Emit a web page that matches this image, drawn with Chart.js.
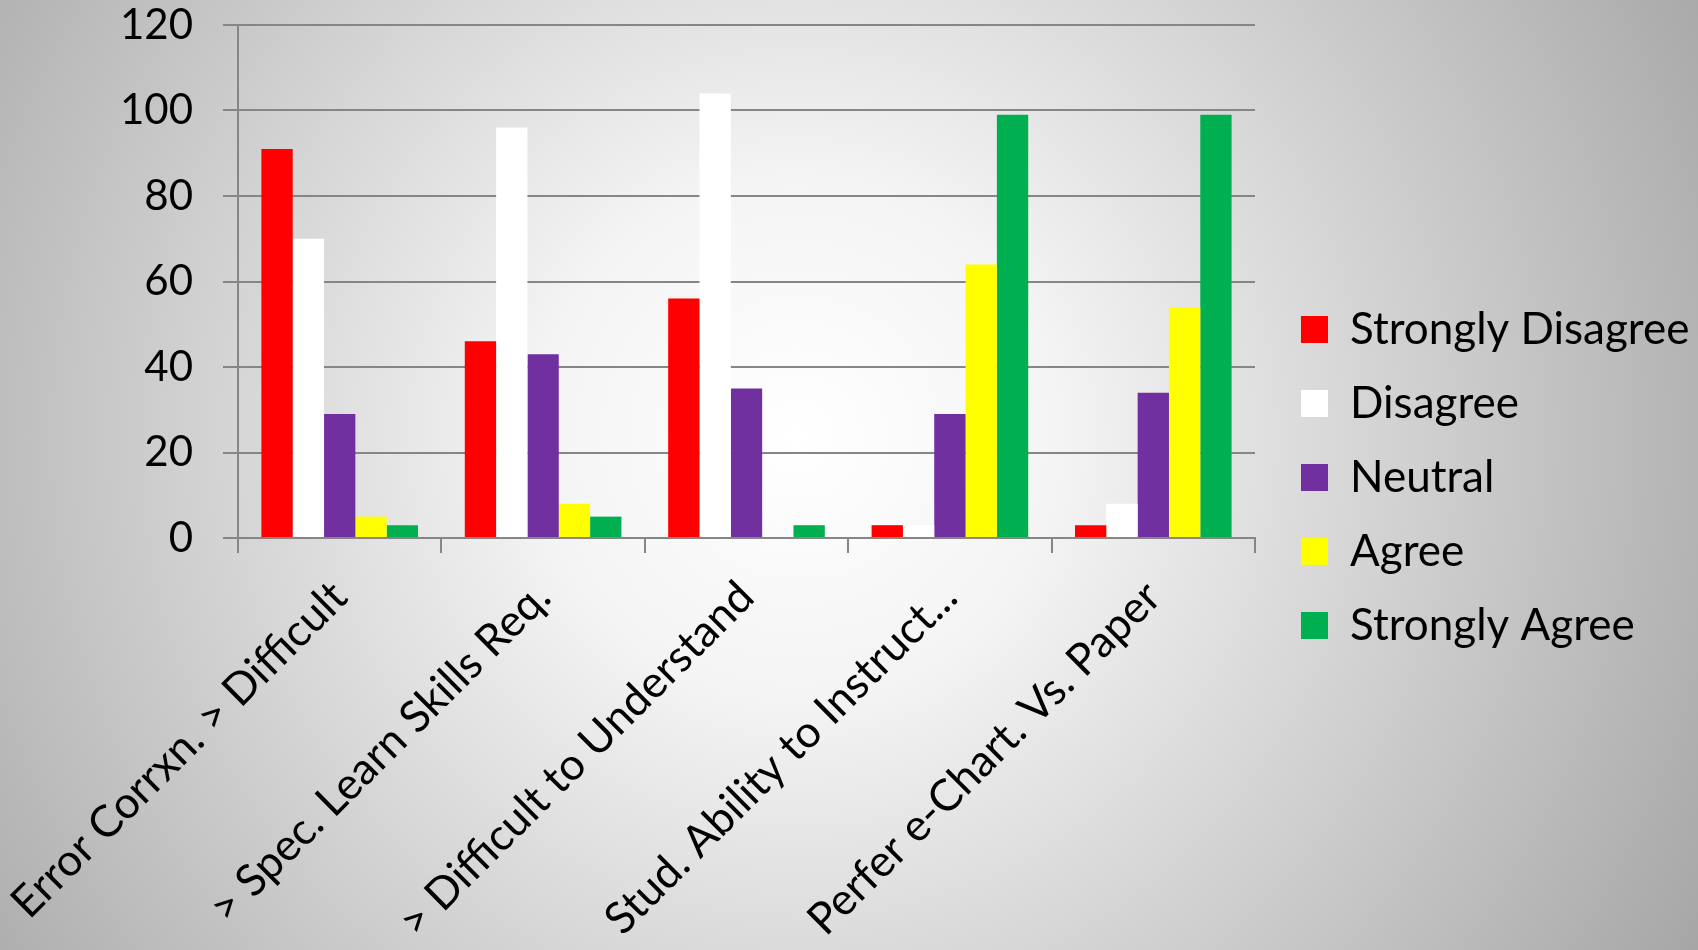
<!DOCTYPE html>
<html>
<head>
<meta charset="utf-8">
<script src="https://cdn.jsdelivr.net/npm/chart.js@4"></script>
<style>
  html, body { margin: 0; padding: 0; }
  body {
    width: 1698px;
    height: 950px;
    overflow: hidden;
    background: radial-gradient(circle farthest-corner at 47% 46%, #ffffff 0%, #f4f4f4 25%, #a6a6a6 100%);
  }
  #chartContainer { width: 1698px; height: 950px; }
</style>
</head>
<body>
<div id="chartContainer"><canvas id="barChart" width="1698" height="950"></canvas></div>
<script>
var categories = [
  'Error Corrxn. > Difficult',
  '> Spec. Learn Skills Req.',
  '> Difficult to Understand',
  'Stud. Ability to Instruct...',
  'Perfer e-Chart. Vs. Paper',
];
var stronglyDisagree = [91, 46, 56, 3, 3];
var disagree = [70, 96, 104, 3, 8];
var neutral = [29, 43, 35, 29, 34];
var agree = [5, 8, 0, 64, 54];
var stronglyAgree = [3, 5, 3, 99, 99];
var yTicks = [0, 20, 40, 60, 80, 100, 120];

var axisGray = '#868686';
var tickFont = { family: 'Lato', size: 42 };
var labelFont = { family: 'Lato', size: 44 };

// legend sits a bit right of the plot edge, like the original
var legendNudge = {
  id: 'legendNudge',
  beforeInit: function (chart) {
    var legend = chart.legend;
    var fit = legend.fit;
    legend.fit = function () {
      fit.call(this);
      this.width = 1698 - 1255;
    };
  },
  afterLayout: function (chart) {
    chart.legend.left += 16;
    chart.legend.right += 16;
    chart.legend.top -= 10;
    chart.legend.bottom -= 10;
  },
};

var ctx = document.getElementById('barChart').getContext('2d');
var barChart = new Chart(ctx, {
  type: 'bar',
  data: {
    labels: categories,
    datasets: [
      { label: 'Strongly Disagree', data: stronglyDisagree, backgroundColor: '#FF0000' },
      { label: 'Disagree', data: disagree, backgroundColor: '#FFFFFF' },
      { label: 'Neutral', data: neutral, backgroundColor: '#7030A0' },
      { label: 'Agree', data: agree, backgroundColor: '#FFFF00' },
      { label: 'Strongly Agree', data: stronglyAgree, backgroundColor: '#00B050' },
    ],
  },
  options: {
    responsive: false,
    animation: false,
    layout: { padding: { top: 25, left: 0, right: 0, bottom: 0 } },
    datasets: {
      bar: { categoryPercentage: 0.77, barPercentage: 1.0 },
    },
    plugins: {
      legend: {
        position: 'right',
        labels: {
          font: labelFont,
          color: '#000',
          boxWidth: 27,
          boxHeight: 27,
          padding: 30,
        },
      },
      tooltip: { enabled: false },
    },
    scales: {
      x: {
        grid: {
          drawOnChartArea: false,
          color: axisGray,
          lineWidth: 2,
          tickLength: 15,
        },
        border: { color: axisGray, width: 2 },
        ticks: {
          font: labelFont,
          color: '#000',
          maxRotation: 45,
          minRotation: 45,
          autoSkip: false,
          padding: 18,
        },
        afterFit: function (scale) {
          scale.height = 950 - 538;
          scale.paddingLeft = 0;
          scale.paddingRight = 0;
        },
      },
      y: {
        min: yTicks[0],
        max: yTicks[yTicks.length - 1],
        afterBuildTicks: function (scale) {
          scale.ticks = yTicks.map(function (v) { return { value: v }; });
        },
        grid: {
          color: axisGray,
          lineWidth: 2,
          tickLength: 15,
        },
        border: { color: axisGray, width: 2 },
        ticks: {
          font: tickFont,
          color: '#000',
          padding: 30,
        },
        afterFit: function (scale) {
          scale.width = 238;
          scale.paddingTop = 0;
          scale.paddingBottom = 0;
        },
      },
    },
  },
  plugins: [legendNudge],
});
</script>
</body>
</html>
